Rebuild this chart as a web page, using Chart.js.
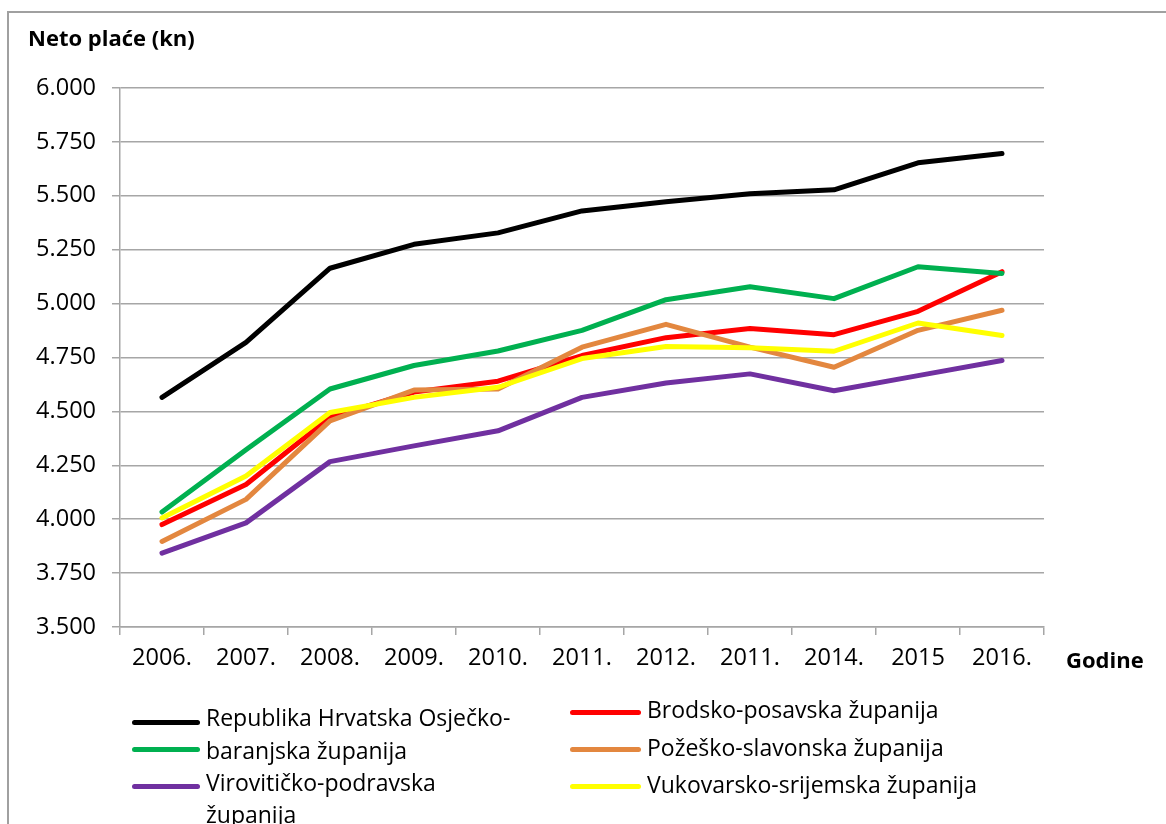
<!DOCTYPE html>
<html>
<head>
<meta charset="utf-8">
<script src="https://cdn.jsdelivr.net/npm/chart.js@4/dist/chart.umd.min.js"></script>
<style>
  html, body { margin: 0; padding: 0; background: #fff; overflow: hidden; }
  body { width: 1166px; height: 824px; position: relative; font-family: "Open Sans", sans-serif; color: #000; }
  #frame { position: absolute; left: 7px; top: 11px; width: 1200px; height: 900px; border: 2px solid #a0a0a0; box-sizing: border-box; }
  #wrap { position: absolute; left: 0; top: 0; width: 1166px; height: 824px; }
  .lbl { position: absolute; white-space: nowrap; line-height: 1; }
  .title { font-weight: bold; font-size: 22px; }
  .leg-line { position: absolute; height: 5px; border-radius: 3px; }
  .leg-text { position: absolute; white-space: nowrap; font-size: 23px; line-height: 1; }
</style>
</head>
<body>
<div id="frame"></div>
<div id="wrap"><canvas id="chart"></canvas></div>
<div class="lbl title" style="left:28px; top:26px;">Neto plaće (kn)</div>
<div class="lbl title" style="left:1066px; top:648px;">Godine</div>
<div id="legend"></div>
<script>
// categories (as printed on the axis)
const years = ["2006.", "2007.", "2008.", "2009.", "2010.", "2011.", "2012.", "2011.", "2014.", "2015", "2016."];

// net wages in kn
const hrvatska = [4565, 4820, 5164, 5275, 5328, 5430, 5472, 5510, 5528, 5653, 5696];
const brodsko = [3975, 4161, 4472, 4590, 4640, 4759, 4842, 4884, 4856, 4964, 5148];
const osjecko = [4033, 4322, 4604, 4713, 4780, 4876, 5018, 5078, 5023, 5171, 5140];
const pozesko = [3897, 4092, 4456, 4599, 4604, 4798, 4904, 4798, 4705, 4876, 4969];
const virovitičko = [3843, 3983, 4267, 4340, 4410, 4565, 4632, 4674, 4596, 4666, 4736];
const vukovarsko = [4006, 4200, 4495, 4565, 4612, 4745, 4801, 4795, 4779, 4910, 4852];

const seriesNames = [
  "Republika Hrvatska",
  "Brodsko-posavska županija",
  "Osječko-baranjska županija",
  "Požeško-slavonska županija",
  "Virovitičko-podravska županija",
  "Vukovarsko-srijemska županija"
];
const seriesValues = [hrvatska, brodsko, osjecko, pozesko, virovitičko, vukovarsko];
const seriesColors = ["#000000", "#ff0000", "#00b050", "#e3873f", "#7030a0", "#ffff00"];

// y axis range
const yMin = 3500, yMax = 6000, yStep = 250;

// legend text as it wraps in the original (series index, text)
const legendRows = [
  { s: 0, text: "Republika Hrvatska Osječko-", line: 722, y: 718, x: 132, tx: 206 },
  { s: 2, text: "baranjska županija", line: 749, y: 751, x: 132, tx: 206 },
  { s: 4, text: "Virovitičko-podravska", line: 786, y: 783, x: 132, tx: 206 },
  { s: -1, text: "županija", y: 815, x: 132, tx: 206 },
  { s: 1, text: "Brodsko-posavska županija", line: 712, y: 710, x: 570, tx: 647 },
  { s: 3, text: "Požeško-slavonska županija", line: 749, y: 748, x: 570, tx: 647 },
  { s: 5, text: "Vukovarsko-srijemska županija", line: 786, y: 785, x: 570, tx: 647 }
];

const legend = document.getElementById("legend");
legendRows.forEach(r => {
  if (r.s >= 0) {
    const l = document.createElement("div");
    l.className = "leg-line";
    l.style.left = r.x + "px";
    l.style.width = (r.tx - r.x - 6) + "px";
    l.style.top = (r.line - 2.5) + "px";
    l.style.background = seriesColors[r.s];
    legend.appendChild(l);
  }
  const t = document.createElement("div");
  t.className = "leg-text";
  t.style.left = r.tx + "px";
  t.style.top = (r.y - 12) + "px";
  t.textContent = r.text;
  legend.appendChild(t);
});

const gridColor = "#a6a6a6";

const datasets = seriesNames.map((name, i) => ({
  label: name,
  data: seriesValues[i],
  borderColor: seriesColors[i],
  backgroundColor: seriesColors[i],
  borderWidth: 5,
  borderCapStyle: "round",
  borderJoinStyle: "round",
  pointRadius: 0,
  tension: 0,
  order: seriesNames.length - i // later series drawn on top, like Excel
}));

new Chart(document.getElementById("chart"), {
  type: "line",
  data: { labels: years, datasets: datasets },
  options: {
    responsive: true,
    maintainAspectRatio: false,
    animation: false,
    layout: { padding: { left: 0, top: 88, right: 122, bottom: 137 } },
    plugins: { legend: { display: false }, tooltip: { enabled: false } },
    scales: {
      x: {
        offset: true,
        grid: { offset: true, drawOnChartArea: false, color: gridColor, lineWidth: 1.5, tickLength: 8 },
        border: { color: gridColor, width: 1.5 },
        ticks: { color: "#000", font: { family: "Open Sans", size: 23.5 }, padding: 9, maxRotation: 0, autoSkip: false },
        afterFit: s => { s.height = 60; }
      },
      y: {
        min: yMin,
        max: yMax,
        grid: { color: gridColor, lineWidth: 1.5, tickLength: 8 },
        border: { color: gridColor, width: 1.5 },
        ticks: {
          stepSize: yStep,
          color: "#000",
          font: { family: "Open Sans", size: 23.5 },
          padding: 16,
          callback: v => (v / 1000).toFixed(3)
        },
        afterFit: s => { s.width = 120; }
      }
    }
  }
});
</script>
</body>
</html>
